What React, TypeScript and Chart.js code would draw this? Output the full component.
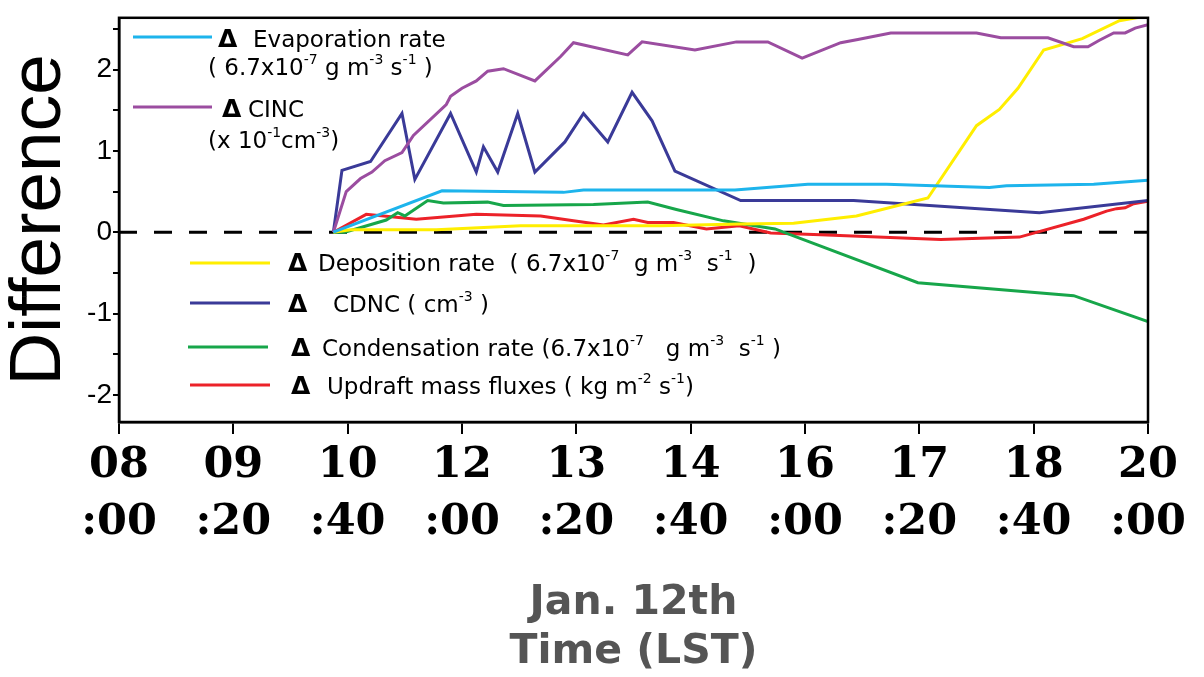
import { useEffect, useRef } from "react";
import { Chart, registerables } from "chart.js";

Chart.register(...registerables);

// ---- axis ticks (minutes after 08:00) ----
const xTickValues = [0, 80, 160, 240, 320, 400, 480, 560, 640, 720];
const xTickLabels = [
  ["08", ":00"], ["09", ":20"], ["10", ":40"], ["12", ":00"], ["13", ":20"],
  ["14", ":40"], ["16", ":00"], ["17", ":20"], ["18", ":40"], ["20", ":00"],
];
const yTickValues = [-2, -1.5, -1, -0.5, 0, 0.5, 1, 1.5, 2, 2.5];

// ---- series (x in minutes after 08:00 LST) ----
const evapMin = [150, 226, 311, 325, 431, 482, 537, 609, 621, 682, 720];
const evapVal = [0, 0.51, 0.49, 0.52, 0.52, 0.59, 0.59, 0.55, 0.57, 0.59, 0.64];

const cincMin = [150, 159, 169, 177, 186, 198, 206, 229, 232, 240, 250, 258, 269, 291, 309, 318, 356, 366, 403, 432, 454, 478, 505, 517, 540, 600, 617, 650, 668, 678, 686, 696, 704, 711, 720];
const cincVal = [0, 0.5, 0.66, 0.74, 0.88, 0.98, 1.19, 1.57, 1.67, 1.77, 1.86, 1.98, 2.01, 1.86, 2.16, 2.33, 2.18, 2.34, 2.24, 2.34, 2.34, 2.14, 2.33, 2.37, 2.45, 2.45, 2.39, 2.39, 2.28, 2.28, 2.36, 2.45, 2.45, 2.51, 2.55];

const depoMin = [150, 162, 222, 281, 379, 435, 472, 516, 566, 600, 616, 629, 647, 674, 700, 720];
const depoVal = [0, 0.03, 0.03, 0.08, 0.08, 0.1, 0.11, 0.2, 0.42, 1.31, 1.51, 1.77, 2.24, 2.38, 2.6, 2.66];

const cdncMin = [150, 156, 176, 198, 207, 232, 250, 255, 265, 279, 291, 312, 325, 342, 359, 373, 389, 435, 514, 644, 720];
const cdncVal = [0, 0.76, 0.87, 1.46, 0.65, 1.46, 0.74, 1.05, 0.74, 1.46, 0.74, 1.11, 1.46, 1.11, 1.72, 1.37, 0.75, 0.39, 0.39, 0.24, 0.39];

const condMin = [150, 158, 187, 195, 200, 216, 227, 258, 269, 332, 370, 390, 423, 459, 559, 668, 720];
const condVal = [0, 0, 0.15, 0.24, 0.2, 0.39, 0.36, 0.37, 0.33, 0.34, 0.37, 0.28, 0.14, 0.04, -0.62, -0.78, -1.1];

const updrMin = [150, 173, 208, 250, 295, 318, 339, 360, 370, 388, 411, 434, 456, 491, 575, 630, 675, 691, 698, 704, 710, 720];
const updrVal = [0, 0.22, 0.16, 0.22, 0.2, 0.14, 0.09, 0.16, 0.12, 0.12, 0.04, 0.08, -0.01, -0.03, -0.09, -0.06, 0.16, 0.26, 0.29, 0.3, 0.35, 0.38];

const zeroMin = [0, 720];
const zeroVal = [0, 0];

const seriesNames = ["Evaporation", "CINC", "Deposition", "CDNC", "Condensation", "Updraft"];
const seriesColors = ["#1DB4EC", "#9B4DA0", "#FFEE00", "#3A3A98", "#17A64A", "#EC2229"];

const pts = (xs: number[], ys: number[]) => xs.map((x, i) => ({ x, y: ys[i] }));

type Seg = { t: string; sup?: boolean };
const LEG_FONT = 23;

function drawRich(ctx: CanvasRenderingContext2D, x: number, y: number, segs: Seg[]) {
  let cx = x;
  for (const s of segs) {
    if (s.sup) {
      ctx.font = `${Math.round(LEG_FONT * 0.6)}px "DejaVu Sans"`;
      ctx.fillText(s.t, cx, y - LEG_FONT * 0.5);
    } else {
      ctx.font = `${LEG_FONT}px "DejaVu Sans"`;
      ctx.fillText(s.t, cx, y);
    }
    cx += ctx.measureText(s.t).width;
  }
}

const legendItems: { line: [number, number, number]; delta: number; rows: { x: number; y: number; segs: Seg[] }[] }[] = [
  {
    line: [133, 212, 37], delta: 218,
    rows: [
      { x: 253, y: 47, segs: [{ t: "Evaporation rate" }] },
      { x: 208, y: 75, segs: [{ t: "( 6.7x10" }, { t: "-7", sup: true }, { t: " g m" }, { t: "-3", sup: true }, { t: " s" }, { t: "-1", sup: true }, { t: " )" }] },
    ],
  },
  {
    line: [133, 212, 107], delta: 222,
    rows: [
      { x: 248, y: 117, segs: [{ t: "CINC" }] },
      { x: 208, y: 148, segs: [{ t: "(x 10" }, { t: "-1", sup: true }, { t: "cm" }, { t: "-3", sup: true }, { t: ")" }] },
    ],
  },
  {
    line: [190, 270, 263], delta: 288,
    rows: [
      { x: 318, y: 271, segs: [{ t: "Deposition rate  ( 6.7x10" }, { t: "-7", sup: true }, { t: "  g m" }, { t: "-3", sup: true }, { t: "  s" }, { t: "-1", sup: true }, { t: "  )" }] },
    ],
  },
  {
    line: [190, 270, 303], delta: 288,
    rows: [
      { x: 333, y: 312, segs: [{ t: "CDNC ( cm" }, { t: "-3", sup: true }, { t: " )" }] },
    ],
  },
  {
    line: [188, 268, 347], delta: 291,
    rows: [
      { x: 322, y: 356, segs: [{ t: "Condensation rate (6.7x10" }, { t: "-7", sup: true }, { t: "   g m" }, { t: "-3", sup: true }, { t: "  s" }, { t: "-1", sup: true }, { t: " )" }] },
    ],
  },
  {
    line: [190, 270, 385], delta: 291,
    rows: [
      { x: 327, y: 394, segs: [{ t: "Updraft mass fluxes ( kg m" }, { t: "-2", sup: true }, { t: " s" }, { t: "-1", sup: true }, { t: ")" }] },
    ],
  },
];

const framePlugin = {
  id: "frameAndLegend",
  afterDraw(chart: any) {
    const { ctx, chartArea } = chart;
    ctx.save();
    ctx.strokeStyle = "#000";
    ctx.lineWidth = 2.5;
    ctx.strokeRect(chartArea.left, chartArea.top, chartArea.right - chartArea.left, chartArea.bottom - chartArea.top);

    ctx.textBaseline = "alphabetic";
    ctx.textAlign = "left";
    legendItems.forEach((it, i) => {
      const ds = chart.data.datasets[i];
      ctx.strokeStyle = ds.borderColor;
      ctx.lineWidth = 3;
      ctx.beginPath();
      ctx.moveTo(it.line[0], it.line[2]);
      ctx.lineTo(it.line[1], it.line[2]);
      ctx.stroke();
      ctx.fillStyle = "#000";
      ctx.font = `bold ${LEG_FONT + 2}px "DejaVu Sans"`;
      ctx.fillText("Δ", it.delta, it.rows[0].y);
      it.rows.forEach((r) => drawRich(ctx, r.x, r.y, r.segs));
    });
    ctx.restore();
  },
};

export default function App() {
  const ref = useRef<HTMLCanvasElement | null>(null);

  useEffect(() => {
    if (!ref.current) return;
    const series = [
      pts(evapMin, evapVal),
      pts(cincMin, cincVal),
      pts(depoMin, depoVal),
      pts(cdncMin, cdncVal),
      pts(condMin, condVal),
      pts(updrMin, updrVal),
    ];
    const chart = new Chart(ref.current, {
      type: "line",
      data: {
        datasets: [
          ...series.map((d, i) => ({
            label: seriesNames[i],
            data: d,
            borderColor: seriesColors[i],
            backgroundColor: seriesColors[i],
            borderWidth: 3,
            pointRadius: 0,
            tension: 0,
            order: i,
          })),
          {
            label: "zero",
            data: pts(zeroMin, zeroVal),
            borderColor: "#000",
            borderWidth: 3,
            borderDash: [18, 17],
            pointRadius: 0,
            order: 99,
          },
        ],
      },
      options: {
        animation: false,
        responsive: false,
        devicePixelRatio: 1,
        layout: { padding: { left: 0, right: 56, top: 12, bottom: 0 } },
        plugins: { legend: { display: false }, tooltip: { enabled: false } },
        scales: {
          x: {
            type: "linear",
            min: 0,
            max: 720,
            afterBuildTicks: (s: any) => {
              s.ticks = xTickValues.map((v) => ({ value: v }));
            },
            afterFit: (s: any) => {
              s.height = 255;
            },
            ticks: {
              autoSkip: false,
              maxRotation: 0,
              padding: 3,
              color: "#000",
              font: { family: '"DejaVu Serif"', weight: "bold", size: 43, lineHeight: 1.33 },
              callback: (v: any) => xTickLabels[xTickValues.indexOf(Number(v))] ?? "",
            },
            grid: { drawOnChartArea: false, tickLength: 12, color: "#000", lineWidth: 2 },
            border: { color: "#000", width: 2.5 },
            title: {
              display: true,
              text: ["Jan. 12th", "Time (LST)"],
              color: "#555555",
              font: { family: '"DejaVu Sans"', weight: "bold", size: 41, lineHeight: 1.2 },
              padding: { top: 0, bottom: 0 },
            },
          },
          y: {
            type: "linear",
            min: -2.333,
            max: 2.636,
            afterBuildTicks: (s: any) => {
              s.ticks = yTickValues.map((v) => ({ value: v }));
            },
            afterFit: (s: any) => {
              s.width = 119;
            },
            ticks: {
              padding: 1,
              color: "#000",
              font: { family: '"Liberation Sans"', size: 28 },
              callback: (v: any) => (Number.isInteger(Number(v)) ? String(v) : ""),
            },
            grid: { drawOnChartArea: false, tickLength: 6, color: "#000", lineWidth: 2 },
            border: { color: "#000", width: 2.5 },
            title: {
              display: true,
              text: "Difference",
              color: "#000",
              font: { family: '"Liberation Sans"', size: 73, lineHeight: 1.1 },
              padding: { top: 0, bottom: 0 },
            },
          },
        },
      },
      plugins: [framePlugin],
    });
    return () => chart.destroy();
  }, []);

  return (
    <div style={{ position: "fixed", left: 0, top: 0, width: 1204, height: 677, background: "#fff" }}>
      <canvas ref={ref} width={1204} height={677} />
    </div>
  );
}
